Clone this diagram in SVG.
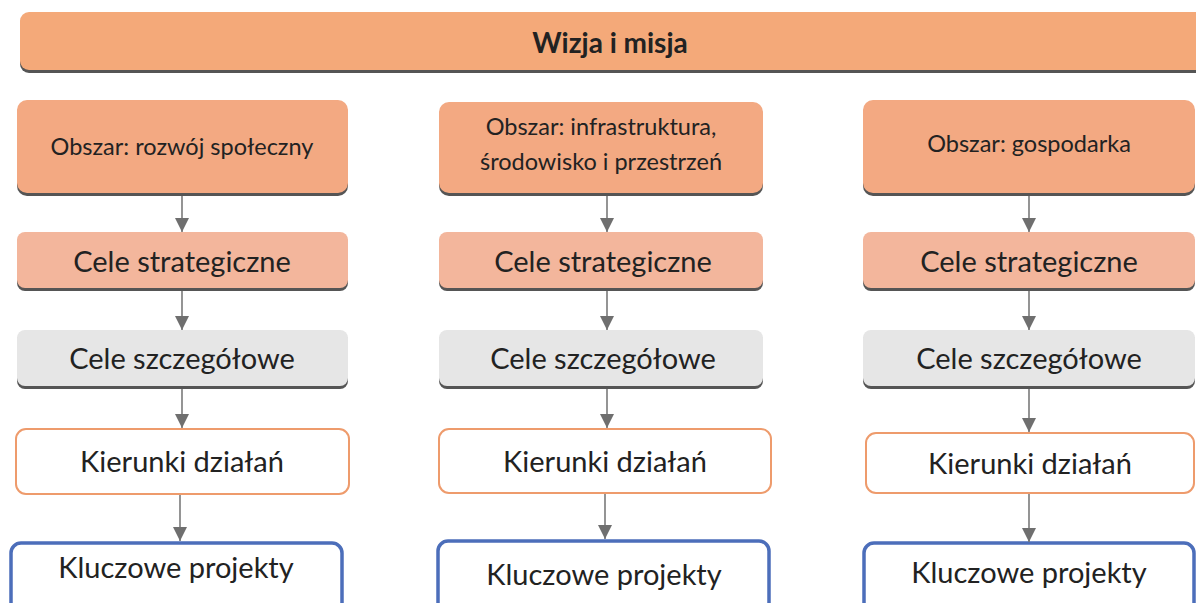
<svg xmlns="http://www.w3.org/2000/svg" width="1196" height="603" viewBox="0 0 1196 603">
<defs>
<marker id="ah" markerWidth="14" markerHeight="14" refX="14" refY="7" orient="auto" markerUnits="userSpaceOnUse" viewBox="0 0 14 14">
<path d="M0,0 L14,7 L0,14 Z" fill="#6f6f6f"/>
</marker>
</defs>
<style>
.sh{fill:#555}
.area{fill:#F3A982}
.top{fill:#F4A979}
.strat{fill:#F3B69C}
.szcz{fill:#E6E6E6}
.kier{fill:#fff;stroke:#EE9B6C;stroke-width:2}
.klu{fill:#fff;stroke:#4C6EBA;stroke-width:3.5}
text{font-family:Lato,"Open Sans","Liberation Sans",sans-serif;fill:#222;text-anchor:middle}
.t22{font-size:23.5px}
.t27{font-size:29px}
.tb{font-size:28px;font-weight:bold}
.con line{stroke:#7a7a7a;stroke-width:1.6;marker-end:url(#ah)}
</style>
<rect width="1196" height="603" fill="#fff"/>
<g id="wizja">
<rect class="sh" x="20" y="15" width="1190" height="58" rx="9"/>
<rect class="top" x="20" y="12" width="1190" height="58" rx="9"/>
<text class="tb" x="610" y="53">Wizja i misja</text>
</g>
<g id="obszar1">
<rect class="sh" x="17" y="103" width="331" height="93" rx="10"/>
<rect class="area" x="17" y="100" width="331" height="93" rx="10"/>
<text class="t22" x="182" y="155">Obszar: rozwój społeczny</text>
</g>
<g id="obszar2">
<rect class="sh" x="439" y="105" width="324" height="91" rx="10"/>
<rect class="area" x="439" y="102" width="324" height="91" rx="10"/>
<text class="t22" x="601" y="135">Obszar: infrastruktura,</text>
<text class="t22" x="601" y="170">środowisko i przestrzeń</text>
</g>
<g id="obszar3">
<rect class="sh" x="863" y="103" width="332" height="93" rx="10"/>
<rect class="area" x="863" y="100" width="332" height="93" rx="10"/>
<text class="t22" x="1029" y="152">Obszar: gospodarka</text>
</g>
<g id="strat1">
<rect class="sh" x="17" y="235" width="331" height="56" rx="8"/>
<rect class="strat" x="17" y="232" width="331" height="56" rx="8"/>
<text class="t27" x="182" y="272">Cele strategiczne</text>
</g>
<g id="strat2">
<rect class="sh" x="439" y="235" width="324" height="56" rx="8"/>
<rect class="strat" x="439" y="232" width="324" height="56" rx="8"/>
<text class="t27" x="603" y="272">Cele strategiczne</text>
</g>
<g id="strat3">
<rect class="sh" x="863" y="235" width="332" height="56" rx="8"/>
<rect class="strat" x="863" y="232" width="332" height="56" rx="8"/>
<text class="t27" x="1029" y="272">Cele strategiczne</text>
</g>
<g id="szcz1">
<rect class="sh" x="17" y="333" width="331" height="56" rx="8"/>
<rect class="szcz" x="17" y="330" width="331" height="56" rx="8"/>
<text class="t27" x="182" y="369">Cele szczegółowe</text>
</g>
<g id="szcz2">
<rect class="sh" x="439" y="333" width="324" height="56" rx="8"/>
<rect class="szcz" x="439" y="330" width="324" height="56" rx="8"/>
<text class="t27" x="603" y="369">Cele szczegółowe</text>
</g>
<g id="szcz3">
<rect class="sh" x="863" y="333" width="332" height="56" rx="8"/>
<rect class="szcz" x="863" y="330" width="332" height="56" rx="8"/>
<text class="t27" x="1029" y="369">Cele szczegółowe</text>
</g>
<g id="kier1">
<rect class="kier" x="16" y="429" width="333" height="65" rx="10"/>
<text class="t27" x="182" y="472">Kierunki działań</text>
</g>
<g id="kier2">
<rect class="kier" x="439" y="429" width="332" height="64" rx="10"/>
<text class="t27" x="605" y="472">Kierunki działań</text>
</g>
<g id="kier3">
<rect class="kier" x="866" y="433" width="328" height="60" rx="10"/>
<text class="t27" x="1030" y="474">Kierunki działań</text>
</g>
<g id="klu1">
<rect class="klu" x="11" y="543" width="331" height="80" rx="10"/>
<text class="t27" x="176" y="578">Kluczowe projekty</text>
</g>
<g id="klu2">
<rect class="klu" x="438" y="541" width="331" height="80" rx="10"/>
<text class="t27" x="604" y="585">Kluczowe projekty</text>
</g>
<g id="klu3">
<rect class="klu" x="864" y="543" width="330" height="80" rx="10"/>
<text class="t27" x="1029" y="583">Kluczowe projekty</text>
</g>
<g class="con" id="connectors">
<line x1="182" y1="196" x2="182" y2="232"/>
<line x1="182" y1="291" x2="182" y2="330"/>
<line x1="182" y1="389" x2="182" y2="428"/>
<line x1="180" y1="495" x2="180" y2="541"/>
<line x1="607" y1="196" x2="607" y2="232"/>
<line x1="607" y1="291" x2="607" y2="330"/>
<line x1="607" y1="389" x2="607" y2="428"/>
<line x1="605" y1="494" x2="605" y2="539"/>
<line x1="1029" y1="196" x2="1029" y2="232"/>
<line x1="1029" y1="291" x2="1029" y2="330"/>
<line x1="1029" y1="389" x2="1029" y2="432"/>
<line x1="1029" y1="494" x2="1029" y2="542"/>
</g>
</svg>
